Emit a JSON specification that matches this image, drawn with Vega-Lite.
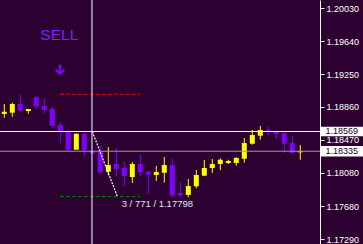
{
  "$schema": "https://vega.github.io/schema/vega-lite/v6.json",
  "width": 320,
  "height": 244,
  "autosize": "none",
  "padding": {"left": 0, "top": 0, "right": 43, "bottom": 0},
  "background": "#2c0030",
  "config": {
    "view": {"stroke": null},
    "axisY": {"labelFont": "Liberation Sans", "labelFontSize": 9, "labelColor": "#ffffff", "tickColor": "#ffffff", "domainColor": "#ffffff", "tickSize": 4, "labelPadding": 2, "grid": false}
  },
  "datasets": {
    "candles": [
      {"i": 1, "o": 1.18776, "h": 1.18895, "l": 1.18732, "c": 1.18804, "dir": "up"},
      {"i": 2, "o": 1.18792, "h": 1.18910, "l": 1.18744, "c": 1.18895, "dir": "up"},
      {"i": 3, "o": 1.18895, "h": 1.19002, "l": 1.18797, "c": 1.18816, "dir": "down"},
      {"i": 4, "o": 1.18812, "h": 1.18836, "l": 1.18780, "c": 1.18836, "dir": "up"},
      {"i": 5, "o": 1.18974, "h": 1.18990, "l": 1.18839, "c": 1.18863, "dir": "down"},
      {"i": 6, "o": 1.18871, "h": 1.18963, "l": 1.18780, "c": 1.18824, "dir": "down"},
      {"i": 7, "o": 1.18836, "h": 1.18859, "l": 1.18610, "c": 1.18634, "dir": "down"},
      {"i": 8, "o": 1.18646, "h": 1.18681, "l": 1.18436, "c": 1.18566, "dir": "down"},
      {"i": 9, "o": 1.18566, "h": 1.18566, "l": 1.18338, "c": 1.18353, "dir": "down"},
      {"i": 10, "o": 1.18353, "h": 1.18543, "l": 1.18353, "c": 1.18543, "dir": "up"},
      {"i": 11, "o": 1.18539, "h": 1.18559, "l": 1.18270, "c": 1.18349, "dir": "down"},
      {"i": 12, "o": 1.18338, "h": 1.18344, "l": 1.18302, "c": 1.18306, "dir": "down"},
      {"i": 13, "o": 1.18338, "h": 1.18400, "l": 1.18061, "c": 1.18085, "dir": "down"},
      {"i": 14, "o": 1.18092, "h": 1.18385, "l": 1.18049, "c": 1.18172, "dir": "up"},
      {"i": 15, "o": 1.18183, "h": 1.18373, "l": 1.18041, "c": 1.18124, "dir": "down"},
      {"i": 16, "o": 1.18140, "h": 1.18207, "l": 1.17919, "c": 1.18041, "dir": "down"},
      {"i": 17, "o": 1.18029, "h": 1.18207, "l": 1.17958, "c": 1.18183, "dir": "up"},
      {"i": 18, "o": 1.18183, "h": 1.18290, "l": 1.18041, "c": 1.18085, "dir": "down"},
      {"i": 19, "o": 1.18092, "h": 1.18104, "l": 1.17828, "c": 1.18057, "dir": "down"},
      {"i": 20, "o": 1.18053, "h": 1.18160, "l": 1.17982, "c": 1.18089, "dir": "up"},
      {"i": 21, "o": 1.18080, "h": 1.18266, "l": 1.17962, "c": 1.18172, "dir": "up"},
      {"i": 22, "o": 1.18172, "h": 1.18243, "l": 1.17784, "c": 1.17812, "dir": "down"},
      {"i": 23, "o": 1.17839, "h": 1.17970, "l": 1.17788, "c": 1.17812, "dir": "down"},
      {"i": 24, "o": 1.17816, "h": 1.18006, "l": 1.17788, "c": 1.17922, "dir": "up"},
      {"i": 25, "o": 1.17919, "h": 1.18112, "l": 1.17895, "c": 1.18053, "dir": "up"},
      {"i": 26, "o": 1.18045, "h": 1.18231, "l": 1.18041, "c": 1.18136, "dir": "up"},
      {"i": 27, "o": 1.18136, "h": 1.18243, "l": 1.18077, "c": 1.18183, "dir": "up"},
      {"i": 28, "o": 1.18183, "h": 1.18251, "l": 1.18112, "c": 1.18234, "dir": "up"},
      {"i": 29, "o": 1.18195, "h": 1.18234, "l": 1.18183, "c": 1.18219, "dir": "up"},
      {"i": 30, "o": 1.18195, "h": 1.18266, "l": 1.18163, "c": 1.18255, "dir": "up"},
      {"i": 31, "o": 1.18246, "h": 1.18492, "l": 1.18199, "c": 1.18432, "dir": "up"},
      {"i": 32, "o": 1.18424, "h": 1.18587, "l": 1.18412, "c": 1.18527, "dir": "up"},
      {"i": 33, "o": 1.18519, "h": 1.18634, "l": 1.18472, "c": 1.18587, "dir": "up"},
      {"i": 34, "o": 1.18587, "h": 1.18622, "l": 1.18519, "c": 1.18575, "dir": "down"},
      {"i": 35, "o": 1.18563, "h": 1.18563, "l": 1.18483, "c": 1.18539, "dir": "down"},
      {"i": 36, "o": 1.18551, "h": 1.18555, "l": 1.18317, "c": 1.18424, "dir": "down"},
      {"i": 37, "o": 1.18432, "h": 1.18515, "l": 1.18306, "c": 1.18317, "dir": "down"},
      {"i": 38, "o": 1.18322, "h": 1.18409, "l": 1.18234, "c": 1.18335, "dir": "up"}
    ]
  },
  "layer": [
    {
      "data": {"name": "candles"},
      "mark": {"type": "rule", "strokeWidth": 1},
      "encoding": {
        "x": {"field": "i", "type": "quantitative", "scale": {"domain": [0.4625, 40.4625], "nice": false, "zero": false, "padding": 0}, "axis": null},
        "y": {"field": "l", "type": "quantitative", "scale": {"domain": [1.17235, 1.20128], "nice": false, "zero": false},
          "axis": {"orient": "right", "values": [1.1729, 1.1768, 1.1808, 1.1847, 1.1886, 1.1925, 1.1964, 1.2003], "format": ".5f", "title": null, "labelOverlap": false, "labelBound": false, "labelFlush": false}},
        "y2": {"field": "h"},
        "color": {"field": "dir", "type": "nominal", "scale": {"domain": ["up", "down"], "range": ["#ffff00", "#8000ff"]}, "legend": null}
      }
    },
    {
      "data": {"name": "candles"},
      "mark": {"type": "bar", "size": 5},
      "encoding": {
        "x": {"field": "i", "type": "quantitative", "scale": {"domain": [0.4625, 40.4625], "nice": false, "zero": false, "padding": 0}, "axis": null},
        "y": {"field": "o", "type": "quantitative", "scale": {"domain": [1.17235, 1.20128], "nice": false, "zero": false},
          "axis": {"orient": "right", "values": [1.1729, 1.1768, 1.1808, 1.1847, 1.1886, 1.1925, 1.1964, 1.2003], "format": ".5f", "title": null, "labelOverlap": false, "labelBound": false, "labelFlush": false}},
        "y2": {"field": "c"},
        "color": {"field": "dir", "type": "nominal", "scale": {"domain": ["up", "down"], "range": ["#ffff00", "#8000ff"]}, "legend": null}
      }
    },
    {
      "data": {"values": [{"a": 7.96, "b": 17.96, "p": 1.1901, "kind": "sl"}, {"a": 7.96, "b": 17.96, "p": 1.17798, "kind": "tp"}]},
      "mark": {"type": "rule", "strokeWidth": 1, "strokeDash": [3.5, 2.5]},
      "encoding": {
        "x": {"field": "a", "type": "quantitative", "scale": {"domain": [0.4625, 40.4625], "nice": false, "zero": false, "padding": 0}, "axis": null},
        "x2": {"field": "b"},
        "y": {"field": "p", "type": "quantitative", "scale": {"domain": [1.17235, 1.20128], "nice": false, "zero": false},
          "axis": {"orient": "right", "values": [1.1729, 1.1768, 1.1808, 1.1847, 1.1886, 1.1925, 1.1964, 1.2003], "format": ".5f", "title": null, "labelOverlap": false, "labelBound": false, "labelFlush": false}},
        "stroke": {"field": "kind", "type": "nominal", "scale": {"domain": ["sl", "tp"], "range": ["#ff0000", "#008800"]}, "legend": null}
      }
    },
    {
      "data": {"values": [{"i": 12, "p": 1.18569}, {"i": 15.125, "p": 1.17798}]},
      "mark": {"type": "line", "color": "#ffffff", "strokeWidth": 1.2, "strokeDash": [2, 1.2]},
      "encoding": {
        "x": {"field": "i", "type": "quantitative", "scale": {"domain": [0.4625, 40.4625], "nice": false, "zero": false, "padding": 0}, "axis": null},
        "y": {"field": "p", "type": "quantitative", "scale": {"domain": [1.17235, 1.20128], "nice": false, "zero": false},
          "axis": {"orient": "right", "values": [1.1729, 1.1768, 1.1808, 1.1847, 1.1886, 1.1925, 1.1964, 1.2003], "format": ".5f", "title": null, "labelOverlap": false, "labelBound": false, "labelFlush": false}}
      }
    },
    {
      "data": {"values": [{"p": 1.18335}]},
      "mark": {"type": "rule", "color": "#9a9aaa", "strokeWidth": 1},
      "encoding": {
        "y": {"field": "p", "type": "quantitative", "scale": {"domain": [1.17235, 1.20128], "nice": false, "zero": false},
          "axis": {"orient": "right", "values": [1.1729, 1.1768, 1.1808, 1.1847, 1.1886, 1.1925, 1.1964, 1.2003], "format": ".5f", "title": null, "labelOverlap": false, "labelBound": false, "labelFlush": false}}
      }
    },
    {
      "data": {"values": [{"p": 1.18569}]},
      "mark": {"type": "rule", "color": "#ffffff", "strokeWidth": 1},
      "encoding": {
        "y": {"field": "p", "type": "quantitative", "scale": {"domain": [1.17235, 1.20128], "nice": false, "zero": false},
          "axis": {"orient": "right", "values": [1.1729, 1.1768, 1.1808, 1.1847, 1.1886, 1.1925, 1.1964, 1.2003], "format": ".5f", "title": null, "labelOverlap": false, "labelBound": false, "labelFlush": false}}
      }
    },
    {
      "data": {"values": [{"i": 11.96}]},
      "mark": {"type": "rule", "color": "#ffffff", "strokeWidth": 1},
      "encoding": {
        "x": {"field": "i", "type": "quantitative", "scale": {"domain": [0.4625, 40.4625], "nice": false, "zero": false, "padding": 0}, "axis": null}
      }
    },
    {
      "data": {"values": [{"i": 7.875, "p": 1.19654, "t": "SELL"}]},
      "mark": {"type": "text", "color": "#7f1fff", "font": "Liberation Sans", "fontSize": 15.5, "align": "center", "baseline": "alphabetic"},
      "encoding": {
        "x": {"field": "i", "type": "quantitative", "scale": {"domain": [0.4625, 40.4625], "nice": false, "zero": false, "padding": 0}, "axis": null},
        "y": {"field": "p", "type": "quantitative", "scale": {"domain": [1.17235, 1.20128], "nice": false, "zero": false},
          "axis": {"orient": "right", "values": [1.1729, 1.1768, 1.1808, 1.1847, 1.1886, 1.1925, 1.1964, 1.2003], "format": ".5f", "title": null, "labelOverlap": false, "labelBound": false, "labelFlush": false}},
        "text": {"field": "t"}
      }
    },
    {
      "data": {"values": [{"i": 7.96, "p": 1.19298}]},
      "mark": {"type": "point", "filled": true, "opacity": 1, "color": "#8000ff", "size": 110,
        "shape": "M -0.24 -1 L 0.24 -1 L 0.24 0.26 L 0.68 -0.2 L 0.98 0.1 L 0 1 L -0.98 0.1 L -0.68 -0.2 L -0.24 0.26 Z"},
      "encoding": {
        "x": {"field": "i", "type": "quantitative", "scale": {"domain": [0.4625, 40.4625], "nice": false, "zero": false, "padding": 0}, "axis": null},
        "y": {"field": "p", "type": "quantitative", "scale": {"domain": [1.17235, 1.20128], "nice": false, "zero": false},
          "axis": {"orient": "right", "values": [1.1729, 1.1768, 1.1808, 1.1847, 1.1886, 1.1925, 1.1964, 1.2003], "format": ".5f", "title": null, "labelOverlap": false, "labelBound": false, "labelFlush": false}}
      }
    },
    {
      "data": {"values": [{"i": 15.675, "p": 1.17673, "t": "3 / 771 / 1.17798"}]},
      "mark": {"type": "text", "color": "#e4e4ec", "font": "Liberation Sans", "fontSize": 9.5, "align": "left", "baseline": "alphabetic"},
      "encoding": {
        "x": {"field": "i", "type": "quantitative", "scale": {"domain": [0.4625, 40.4625], "nice": false, "zero": false, "padding": 0}, "axis": null},
        "y": {"field": "p", "type": "quantitative", "scale": {"domain": [1.17235, 1.20128], "nice": false, "zero": false},
          "axis": {"orient": "right", "values": [1.1729, 1.1768, 1.1808, 1.1847, 1.1886, 1.1925, 1.1964, 1.2003], "format": ".5f", "title": null, "labelOverlap": false, "labelBound": false, "labelFlush": false}},
        "text": {"field": "t"}
      }
    },
    {
      "data": {"values": [{"a": 40.55, "b": 45.9, "lo": 1.18513, "hi": 1.18625}, {"a": 40.55, "b": 45.9, "lo": 1.18273, "hi": 1.18397}]},
      "mark": {"type": "rect", "color": "#ffffff"},
      "encoding": {
        "x": {"field": "a", "type": "quantitative", "scale": {"domain": [0.4625, 40.4625], "nice": false, "zero": false, "padding": 0}, "axis": null},
        "x2": {"field": "b"},
        "y": {"field": "lo", "type": "quantitative", "scale": {"domain": [1.17235, 1.20128], "nice": false, "zero": false},
          "axis": {"orient": "right", "values": [1.1729, 1.1768, 1.1808, 1.1847, 1.1886, 1.1925, 1.1964, 1.2003], "format": ".5f", "title": null, "labelOverlap": false, "labelBound": false, "labelFlush": false}},
        "y2": {"field": "hi"}
      }
    },
    {
      "data": {"values": [{"i": 41.15, "p": 1.18569, "t": "1.18569"}, {"i": 41.15, "p": 1.18335, "t": "1.18335"}]},
      "mark": {"type": "text", "color": "#1c001e", "font": "Liberation Sans", "fontSize": 9, "align": "left", "baseline": "middle"},
      "encoding": {
        "x": {"field": "i", "type": "quantitative", "scale": {"domain": [0.4625, 40.4625], "nice": false, "zero": false, "padding": 0}, "axis": null},
        "y": {"field": "p", "type": "quantitative", "scale": {"domain": [1.17235, 1.20128], "nice": false, "zero": false},
          "axis": {"orient": "right", "values": [1.1729, 1.1768, 1.1808, 1.1847, 1.1886, 1.1925, 1.1964, 1.2003], "format": ".5f", "title": null, "labelOverlap": false, "labelBound": false, "labelFlush": false}},
        "text": {"field": "t"}
      }
    }
  ]
}
